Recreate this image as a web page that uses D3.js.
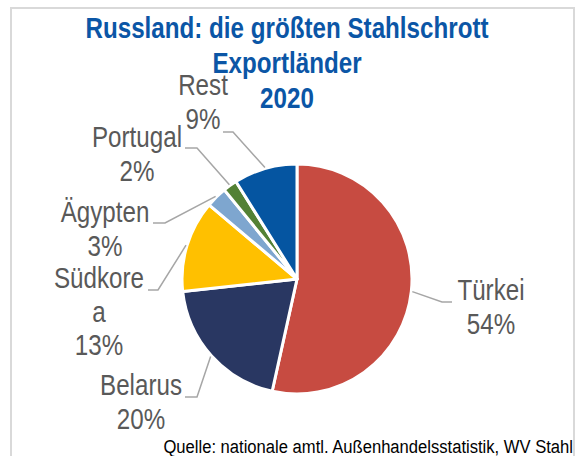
<!DOCTYPE html>
<html>
<head>
<meta charset="utf-8">
<script src="https://cdn.jsdelivr.net/npm/d3@7"></script>
<style>
	body { margin: 0; background: #fff; }
	svg { display: block; }
</style>
</head>
<body>
<main></main>
<script>

// DATA
const categories = ["Türkei", "Belarus", "Südkorea", "Ägypten", "Portugal", "Rest"];
const values = [54, 20, 13, 3, 2, 9];
// label text as in the chart (Südkorea is wrapped)
const labelNames = [["Türkei"], ["Belarus"], ["Südkore", "a"], ["Ägypten"], ["Portugal"], ["Rest"]];
const colors = ["#c74b41", "#293762", "#ffc000", "#7ea6cf", "#538135", "#0555a1"];
const titleLines = ["Russland: die größten Stahlschrott", "Exportländer", "2020"];
const source = "Quelle: nationale amtl. Außenhandelsstatistik, WV Stahl";

// LAYOUT (label spots and leader elbows, placed by hand like in the original)
const labelSpots = [
	{x: 491, y: 300, elbow: [[442, 302], [452, 302]]},
	{x: 141, y: 395, elbow: [[197, 397], [185, 397]]},
	{x: 99, y: 288, elbow: [[158, 290], [148, 290]]},
	{x: 105, y: 222, elbow: [[165, 223], [153, 223]]},
	{x: 137, y: 147, elbow: [[197, 148], [185, 148]]},
	{x: 203, y: 95, elbow: [[233, 132], [223, 132]]}
];

const w = 581, h = 456;
const cx = 297, cy = 279, r = 115;
const lineGap = 33.5;

const svg = d3.select("main").append("svg").attr("width", w).attr("height", h);

// narrow font check: fall back to squeezed Liberation Sans if no narrow face
function textWidth(font) {
	const t = svg.append("text").attr("font-family", font).attr("font-size", 50).text("Portugal Stahl");
	const len = t.node().getComputedTextLength();
	t.remove();
	return len;
}
const hasNarrow = textWidth("'Liberation Sans Narrow'") < textWidth("'Liberation Sans'") * 0.9;
const FONT = hasNarrow ? "'Liberation Sans Narrow', 'Arial Narrow', sans-serif" : "'Liberation Sans', Arial, sans-serif";
const SX = hasNarrow ? 1 : 0.82;

function putText(g, x, y, str, size, opts) {
	const sx = opts.sx || SX;
	return g.append("text")
		.attr("transform", "translate(" + x + "," + y + ") scale(" + sx + ",1)")
		.attr("text-anchor", opts.anchor || "middle")
		.attr("font-family", FONT)
		.attr("font-size", size)
		.attr("font-weight", opts.weight || "normal")
		.attr("fill", opts.fill)
		.text(str);
}

// frame
svg.append("rect")
	.attr("x", 11).attr("y", 8).attr("width", 563).attr("height", 470)
	.attr("fill", "none").attr("stroke", "#d9d9d9").attr("stroke-width", 2);

// title
titleLines.forEach((line, i) => {
	putText(svg, 287, 38 + i * 35, line, 29.5, {weight: "bold", fill: "#0b56a6"});
});

// pie
const data = categories.map((c, i) => ({name: c, value: values[i], i: i}));
const pie = d3.pie().value(d => d.value).sort(null);
const arcs = pie(data);
const arc = d3.arc().innerRadius(0).outerRadius(r);
const edge = d3.arc().innerRadius(r + 1).outerRadius(r + 1);

const pieG = svg.append("g").attr("transform", "translate(" + cx + "," + cy + ")");
pieG.selectAll("path.slice").data(arcs).enter().append("path")
	.attr("class", "slice")
	.attr("d", arc)
	.attr("fill", d => colors[d.data.i])
	.attr("stroke", "#fff")
	.attr("stroke-width", 3)
	.attr("stroke-linejoin", "round");

// leader lines
const line = d3.line();
svg.selectAll("path.leader").data(arcs).enter().append("path")
	.attr("class", "leader")
	.attr("d", d => {
		const p = edge.centroid(d);
		const spot = labelSpots[d.data.i];
		return line([[cx + p[0], cy + p[1]]].concat(spot.elbow));
	})
	.attr("fill", "none")
	.attr("stroke", "#a6a6a6")
	.attr("stroke-width", 1.5);

// labels
const fmt = v => Math.round(v) + "%";
arcs.forEach(d => {
	const spot = labelSpots[d.data.i];
	const lines = labelNames[d.data.i].concat([fmt(d.data.value)]);
	lines.forEach((s, k) => {
		putText(svg, spot.x, spot.y + k * lineGap, s, 29.5, {fill: "#595959"});
	});
});

// source: same glyph height as the original, stretched to its width
const src = putText(svg, 573, 453, source, 19, {anchor: "end", fill: "#000", sx: 1});
const srcLen = src.node().getComputedTextLength();
src.attr("transform", "translate(573,453) scale(" + (410 / srcLen) + ",1)");

</script>
</body>
</html>
